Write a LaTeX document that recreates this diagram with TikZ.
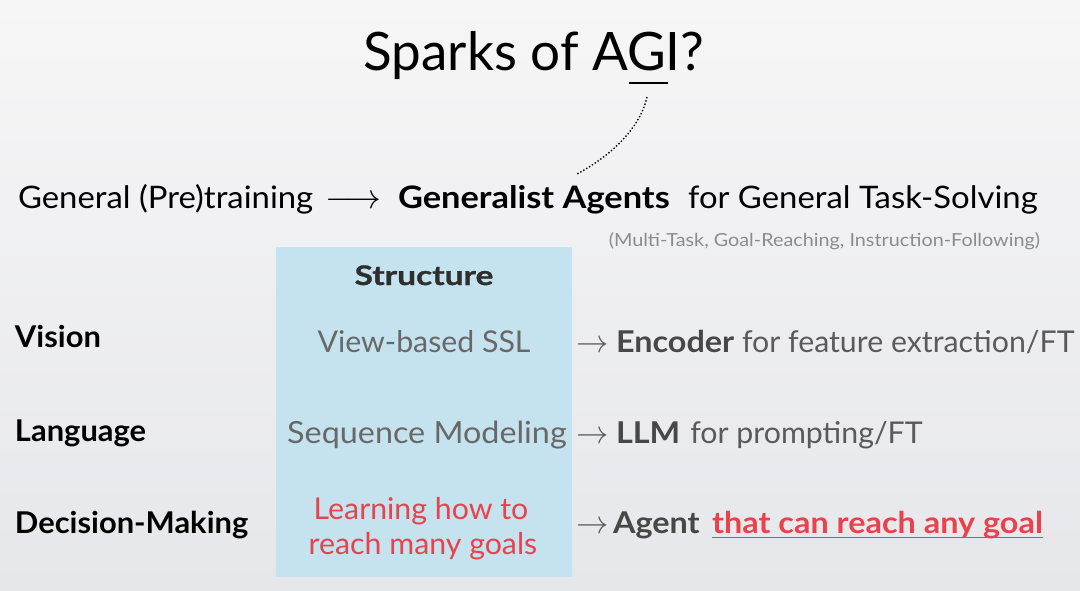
\documentclass[tikz,border=0pt]{standalone}
\usepackage{fontspec}
\setmainfont{Lato}
\newfontfamily\rowf{Lato}[FakeStretch=1.01]
\newfontfamily\rowbf{Lato}[FakeStretch=1.08]
\newfontfamily\labf{Lato}[FakeStretch=1.03]
\newfontfamily\hdf{Lato}[FakeStretch=1.06]
\newfontfamily\hdbf{Lato}[FakeStretch=1.11]
\newfontfamily\subf{Lato}[FakeStretch=1.1]
\newfontfamily\structf{Lato}[FakeStretch=1.24,FakeBold=1]
\usetikzlibrary{calc}
\definecolor{bgtop}{HTML}{F6F6F7}
\definecolor{bgbot}{HTML}{E6E7EA}
\definecolor{boxblue}{HTML}{C4E3EE}
\definecolor{redtxt}{HTML}{E8424C}
\definecolor{midgray}{HTML}{686868}
\definecolor{rgray}{HTML}{5A5A5A}
\definecolor{rdark}{HTML}{474747}
\definecolor{subgray}{HTML}{8C8C8C}
\definecolor{structc}{HTML}{2E2E2E}
\begin{document}
\begin{tikzpicture}[x=1pt,y=-1pt,
  every node/.style={inner sep=0pt,outer sep=0pt},
  lw/.style={anchor=base west},
  ctr/.style={anchor=base},
  hd/.style={font=\fontsize{31}{36}\selectfont\hdf},
  hdb/.style={font=\fontsize{31}{36}\selectfont\hdbf\bfseries},
  lab/.style={font=\fontsize{30}{34}\selectfont\labf\bfseries, text=black},
  mid/.style={font=\fontsize{30}{34}\selectfont\rowf, text=midgray},
  redmid/.style={font=\fontsize{30}{34}\selectfont\rowf, text=redtxt},
  rtxt/.style={font=\fontsize{30}{34}\selectfont\rowf, text=rgray},
  rbold/.style={font=\fontsize{30}{34}\selectfont\rowbf\bfseries, text=rdark},
  ulinecol/.style={draw=redtxt, line width=1.8pt}
]
\shade[top color=bgtop,bottom color=bgbot] (0,0) rectangle (1080,590);
\useasboundingbox (0,0) rectangle (1080,590);

% title
\node[ctr, font=\fontsize{53}{60}\selectfont] (title) at (534,70) {Sparks of AGI?};
\coordinate (gul) at (629,83);
\coordinate (gur) at (668,83);
\draw[line width=2pt] (gul) -- (gur);
\coordinate (dotstart) at (647,97);

% line 2
\node[lw, hd] (gpt) at (18,208) {General (Pre)training};
\node[lw, hd] (arrow) at (325,208) {\scalebox{1.4}{$\longrightarrow$}};
\node[lw, hdb] (ga) at (398,208) {Generalist Agents};
\node[lw, hd] (gts) at (688,208) {for General Task-Solving};
\node[anchor=base east, font=\fontsize{18}{21}\selectfont\subf, text=subgray] (sub) at (1040,246) {(Multi-Task, Goal-Reaching, Instruction-Following)};
\coordinate (dotend) at (577,174);
\draw[line width=1.4pt, dotted] (dotstart) .. controls (640,128) and (612,155) .. (dotend);

% box
\node[fill=boxblue, minimum width=296pt, minimum height=330pt, anchor=north west] (box) at (276,247) {};
\node[ctr, font=\fontsize{27}{30}\selectfont\structf\bfseries, text=structc] (struct) at (424,285) {Structure};

% left labels
\node[lw, lab] (vision) at (15,347) {Vision};
\node[lw, lab] (lang) at (15,441) {Language};
\node[lw, lab] (dec) at (15,533) {Decision-Making};

% middle
\node[ctr, mid] (ssl) at (424,352) {View-based SSL};
\node[ctr, mid, font=\fontsize{30.5}{34}\selectfont\hdf] (seq) at (427,443) {Sequence Modeling};
\node[ctr, redmid] (learn1) at (421,519) {Learning how to};
\node[ctr, redmid] (learn2) at (423,554) {reach many goals};

% right
\node[lw, rtxt] (a1) at (576,352) {\scalebox{1.3}{$\rightarrow$}};
\node[lw, rbold] (enc) at (616,352) {Encoder};
\node[lw, rtxt] (enct) at (742,352) {for feature extraction/FT};

\node[lw, rtxt] (a2) at (576,443) {\scalebox{1.3}{$\rightarrow$}};
\node[lw, rbold] (llm) at (616,443) {LLM};
\node[lw, rtxt] (llmt) at ($(llm.base east)+(10,0)$) {for prompting/FT};

\node[lw, rtxt] (a3) at (576,533) {\scalebox{1.3}{$\rightarrow$}};
\node[lw, rbold] (agent) at (613,533) {Agent};
\node[lw, rbold, text=redtxt] (goal) at (712,533) {that can reach any goal};
\draw[ulinecol] ($(goal.base west)+(0,4.5)$) -- ($(goal.base east)+(0,4.5)$);
\end{tikzpicture}
\end{document}
